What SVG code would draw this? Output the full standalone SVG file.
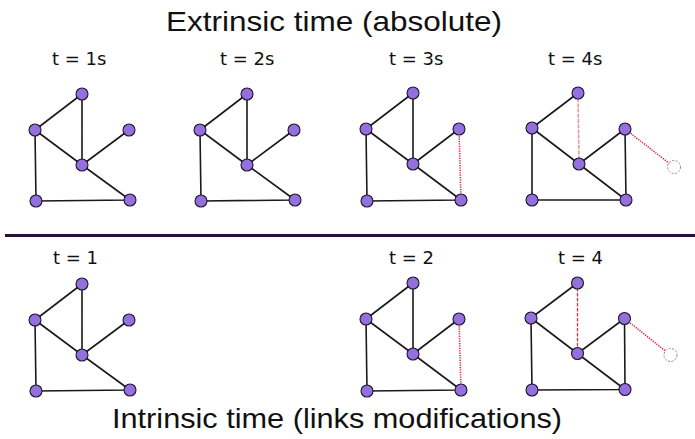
<svg xmlns="http://www.w3.org/2000/svg" width="695" height="439" viewBox="0 0 695 439">
<style>
.title{font-family:"Liberation Sans",Arial,sans-serif;font-size:28px;fill:#111}
.lbl{font-family:"DejaVu Sans",sans-serif;font-size:18px;fill:#111}
.e{stroke:#1a1a1a;stroke-width:1.6;fill:none}
.rd{stroke:#e8102a;stroke-width:1.5;stroke-dasharray:1.2 1.2;fill:none}
.rp{stroke:#e39aa0;stroke-width:1.6;stroke-dasharray:4 1.2;fill:none}
.rk{stroke:#e83040;stroke-width:1.3;stroke-dasharray:3.5 1.5;fill:none}
.n{fill:#9370db;stroke:#1e1430;stroke-width:1.1}
.g{fill:#fff;stroke:#8a8a8a;stroke-width:1;stroke-dasharray:2 1.5}
</style>
<rect width="695" height="439" fill="#fff"/>
<text class="title" x="166" y="31" textLength="336" lengthAdjust="spacingAndGlyphs">Extrinsic time (absolute)</text>
<text class="title" x="112" y="428" textLength="450" lengthAdjust="spacingAndGlyphs">Intrinsic time (links modifications)</text>
<g id="labels">
<text class="lbl" x="52" y="65">t = 1s</text>
<text class="lbl" x="220" y="65">t = 2s</text>
<text class="lbl" x="389" y="65">t = 3s</text>
<text class="lbl" x="548" y="65">t = 4s</text>
<text class="lbl" x="53" y="264">t = 1</text>
<text class="lbl" x="389" y="264">t = 2</text>
<text class="lbl" x="558" y="264">t = 4</text>
</g>
<line x1="5" y1="235.5" x2="695" y2="235.5" stroke="#2b1036" stroke-width="2.8"/>
<g id="connectors">
<path class="e" d="M82,94L35,130M82,94L82,165M35,130L82,165M35,130L36,201M129,130L82,165M82,165L130,200M36,201L130,200"/>
<path class="e" d="M247,94L200,130M247,94L247,165M200,130L247,165M200,130L201,201M294,130L247,165M247,165L295,200M201,201L295,200"/>
<path class="e" d="M413,93L366,129M413,93L413,164M366,129L413,164M366,129L367,201M459,129L413,164M413,164L461,200M367,201L461,200"/>
<path class="rd" d="M459,129L461,200"/>
<path class="e" d="M578,93L532,128M532,128L579,164M532,128L532,200M625,129L579,164M625,129L626,200M579,164L626,200M532,200L626,200"/>
<path class="rp" d="M578,93L579,164"/>
<path class="rd" d="M625,129L674,167"/>
<path class="e" d="M82,284L35,320M82,284L82,355M35,320L82,355M35,320L36,391M129,320L82,355M82,355L130,390M36,391L130,390"/>
<path class="e" d="M413,283L366,319M413,283L413,354M366,319L413,354M366,319L367,391M459,319L413,354M413,354L461,390M367,391L461,390"/>
<path class="rd" d="M459,319L461,390"/>
<path class="e" d="M577.5,283L531,318M531,318L577.5,353.5M531,318L532,390M624.5,318.5L577.5,353.5M624.5,318.5L625,389.5M577.5,353.5L625,389.5M532,390L625,389.5"/>
<path class="rk" d="M577.5,283L577.5,353.5"/>
<path class="rd" d="M624.5,318.5L670.5,355"/>
</g>
<g id="t1s">
<g id="t1s-a"><circle class="n" cx="82" cy="94" r="6"/></g>
<g id="t1s-b"><circle class="n" cx="35" cy="130" r="6"/></g>
<g id="t1s-c"><circle class="n" cx="129" cy="130" r="6"/></g>
<g id="t1s-d"><circle class="n" cx="82" cy="165" r="6"/></g>
<g id="t1s-e"><circle class="n" cx="36" cy="201" r="6"/></g>
<g id="t1s-f"><circle class="n" cx="130" cy="200" r="6"/></g>
</g>
<g id="t2s">
<g id="t2s-a"><circle class="n" cx="247" cy="94" r="6"/></g>
<g id="t2s-b"><circle class="n" cx="200" cy="130" r="6"/></g>
<g id="t2s-c"><circle class="n" cx="294" cy="130" r="6"/></g>
<g id="t2s-d"><circle class="n" cx="247" cy="165" r="6"/></g>
<g id="t2s-e"><circle class="n" cx="201" cy="201" r="6"/></g>
<g id="t2s-f"><circle class="n" cx="295" cy="200" r="6"/></g>
</g>
<g id="t3s">
<g id="t3s-a"><circle class="n" cx="413" cy="93" r="6"/></g>
<g id="t3s-b"><circle class="n" cx="366" cy="129" r="6"/></g>
<g id="t3s-c"><circle class="n" cx="459" cy="129" r="6"/></g>
<g id="t3s-d"><circle class="n" cx="413" cy="164" r="6"/></g>
<g id="t3s-e"><circle class="n" cx="367" cy="201" r="6"/></g>
<g id="t3s-f"><circle class="n" cx="461" cy="200" r="6"/></g>
</g>
<g id="t4s">
<g id="t4s-a"><circle class="n" cx="578" cy="93" r="6"/></g>
<g id="t4s-b"><circle class="n" cx="532" cy="128" r="6"/></g>
<g id="t4s-c"><circle class="n" cx="625" cy="129" r="6"/></g>
<g id="t4s-d"><circle class="n" cx="579" cy="164" r="6"/></g>
<g id="t4s-e"><circle class="n" cx="532" cy="200" r="6"/></g>
<g id="t4s-f"><circle class="n" cx="626" cy="200" r="6"/></g>
<g id="t4s-g"><circle class="g" cx="674" cy="167" r="6.5"/></g>
</g>
<g id="i1">
<g id="i1-a"><circle class="n" cx="82" cy="284" r="6"/></g>
<g id="i1-b"><circle class="n" cx="35" cy="320" r="6"/></g>
<g id="i1-c"><circle class="n" cx="129" cy="320" r="6"/></g>
<g id="i1-d"><circle class="n" cx="82" cy="355" r="6"/></g>
<g id="i1-e"><circle class="n" cx="36" cy="391" r="6"/></g>
<g id="i1-f"><circle class="n" cx="130" cy="390" r="6"/></g>
</g>
<g id="i2">
<g id="i2-a"><circle class="n" cx="413" cy="283" r="6"/></g>
<g id="i2-b"><circle class="n" cx="366" cy="319" r="6"/></g>
<g id="i2-c"><circle class="n" cx="459" cy="319" r="6"/></g>
<g id="i2-d"><circle class="n" cx="413" cy="354" r="6"/></g>
<g id="i2-e"><circle class="n" cx="367" cy="391" r="6"/></g>
<g id="i2-f"><circle class="n" cx="461" cy="390" r="6"/></g>
</g>
<g id="i4">
<g id="i4-a"><circle class="n" cx="577.5" cy="283" r="6"/></g>
<g id="i4-b"><circle class="n" cx="531" cy="318" r="6"/></g>
<g id="i4-c"><circle class="n" cx="624.5" cy="318.5" r="6"/></g>
<g id="i4-d"><circle class="n" cx="577.5" cy="353.5" r="6"/></g>
<g id="i4-e"><circle class="n" cx="532" cy="390" r="6"/></g>
<g id="i4-f"><circle class="n" cx="625" cy="389.5" r="6"/></g>
<g id="i4-g"><circle class="g" cx="670.5" cy="355" r="6.5"/></g>
</g>
</svg>
